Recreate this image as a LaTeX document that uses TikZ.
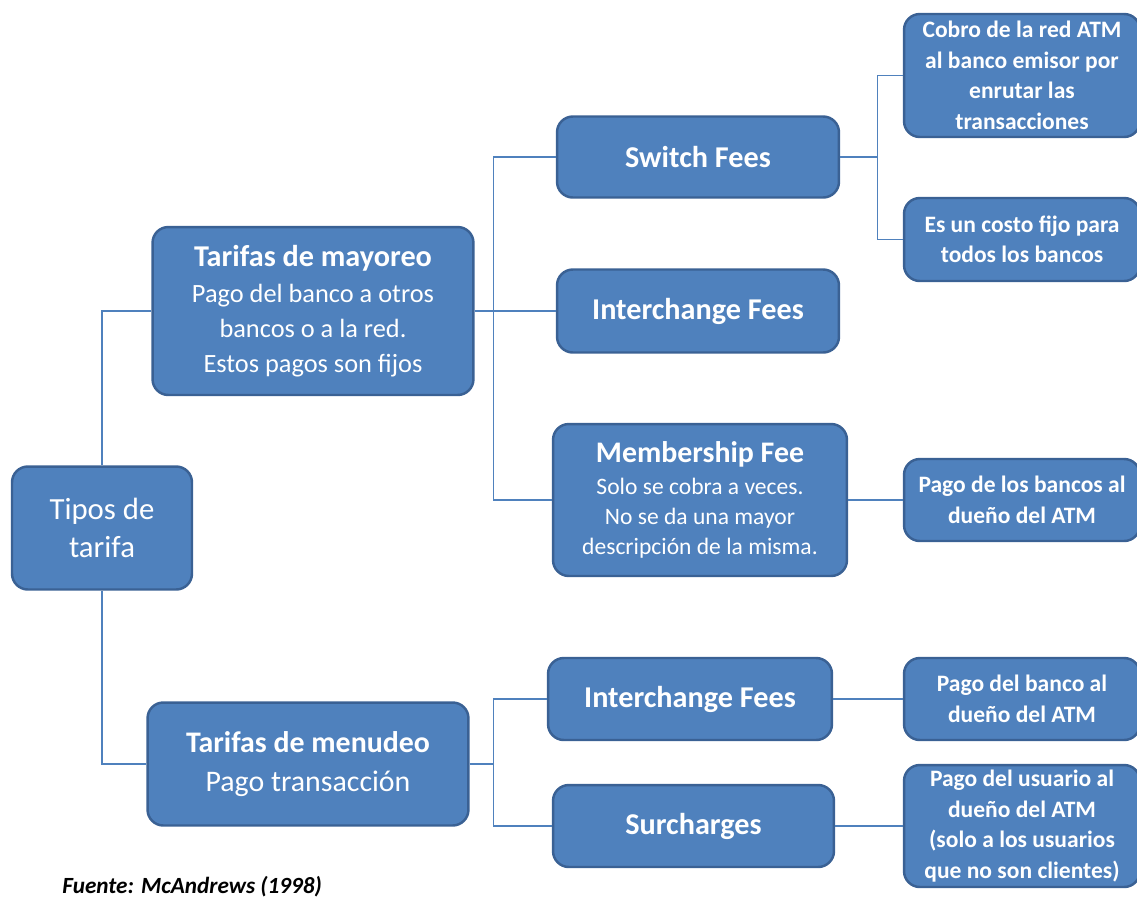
\documentclass[tikz,border=0pt]{standalone}
\usepackage{fontspec}
\setmainfont{Carlito}
\definecolor{boxfill}{HTML}{4F81BD}
\definecolor{boxline}{HTML}{3A6194}
\definecolor{connline}{HTML}{4F81BD}
\begin{document}
\begin{tikzpicture}[x=0.02cm,y=-0.02cm,
  box/.style={draw=boxline,line width=1.4pt,fill=boxfill,rounded corners=9pt,
    text=white,align=center,inner sep=0pt},
  conn/.style={draw=connline,line width=0.8pt},
  big/.style={font=\fontsize{17.5}{21.5}\selectfont},
  head/.style={font=\bfseries\fontsize{17.2}{21.5}\selectfont},
  small/.style={font=\bfseries\fontsize{13.4}{17.4}\selectfont}]
\useasboundingbox (0,0) rectangle (1137,897);
% level 0
\node[box,big,minimum width=3.6cm,minimum height=2.46cm] (root) at (102,528) {Tipos de\\tarifa};
% level 1
\node[box,font=\fontsize{15}{19.8}\selectfont,minimum width=6.42cm,minimum height=3.36cm] (may) at (313,311)
  {{\bfseries\fontsize{17.2}{19.8}\selectfont Tarifas de mayoreo}\\[1pt]Pago del banco a otros\\bancos o a la red.\\Estos pagos son fijos};
\node[box,minimum width=6.42cm,minimum height=2.46cm,font=\fontsize{17}{22}\selectfont] (men) at (308,764)
  {\textbf{Tarifas de menudeo}\\Pago transacción};
% level 2
\node[box,head,minimum width=5.64cm,minimum height=1.62cm] (sw) at (698,157) {Switch Fees};
\node[box,head,minimum width=5.64cm,minimum height=1.66cm] (ic) at (698,311) {Interchange Fees};
\node[box,font=\fontsize{13.4}{17}\selectfont,minimum width=5.88cm,minimum height=3.04cm] (mem) at (700,500)
  {{\bfseries\fontsize{17}{19}\selectfont Membership Fee}\\[1pt]
   Solo se cobra a veces.\\No se da una mayor\\descripción de la misma.};
\node[box,head,minimum width=5.68cm,minimum height=1.64cm] (ic2) at (690,699) {Interchange Fees};
\node[box,head,minimum width=5.62cm,minimum height=1.64cm] (sur) at (693.5,826) {Surcharges};
% level 3
\node[box,small,minimum width=4.72cm,minimum height=2.46cm] (cob) at (1022,75.5)
  {Cobro de la red ATM\\al banco emisor por\\enrutar las\\transacciones};
\node[box,small,minimum width=4.72cm,minimum height=1.66cm] (fij) at (1022,239.5)
  {Es un costo fijo para\\todos los bancos};
\node[box,small,minimum width=4.72cm,minimum height=1.64cm] (pbs) at (1022,500)
  {Pago de los bancos al\\dueño del ATM};
\node[box,small,minimum width=4.72cm,minimum height=1.64cm] (pb) at (1022,699)
  {Pago del banco al\\dueño del ATM};
\node[box,small,minimum width=4.72cm,minimum height=2.44cm] (pu) at (1022,826)
  {Pago del usuario al\\dueño del ATM\\(solo a los usuarios\\que no son clientes)};
% source
\node[anchor=west,inner sep=0pt,font=\bfseries\itshape\fontsize{13.2}{15}\selectfont] (src) at (62,887) {Fuente: McAndrews (1998)};
% connectors
\draw[conn] (root.north) |- (may.west);
\draw[conn] (root.south) |- (men.west);
\draw[conn] (may.east) -- ++(19,0) |- (sw.west);
\draw[conn] (may.east) -- (ic.west);
\draw[conn] (may.east) -- ++(19,0) |- (mem.west);
\draw[conn] (men.east) -- ++(24,0) |- (ic2.west);
\draw[conn] (men.east) -- ++(24,0) |- (sur.west);
\draw[conn] (sw.east) -- ++(37,0) |- (cob.west);
\draw[conn] (sw.east) -- ++(37,0) |- (fij.west);
\draw[conn] (mem.east) -- (pbs.west);
\draw[conn] (ic2.east) -- (pb.west);
\draw[conn] (sur.east) -- (pu.west);
\end{tikzpicture}
\end{document}
